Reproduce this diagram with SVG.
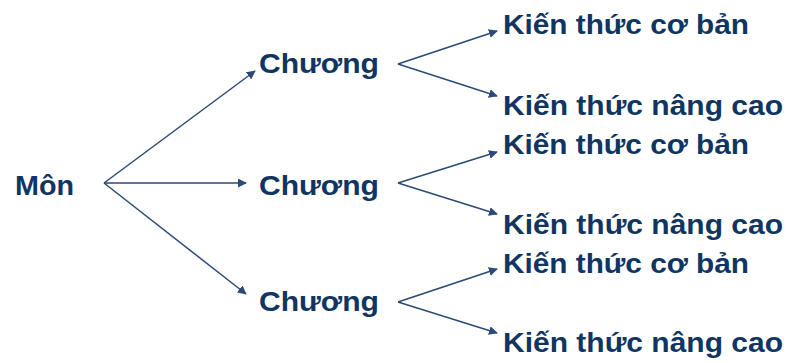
<svg xmlns="http://www.w3.org/2000/svg" width="787" height="363" viewBox="0 0 787 363">
  <style>
    .lbl { font-family: "Liberation Sans", Arial, sans-serif; font-weight: bold; font-size: 28px; fill: #0f3563; }
    .edge { stroke: #2b4a78; stroke-width: 1.5; fill: none; marker-end: url(#arrow); }
  </style>
  <defs>
    <marker id="arrow" viewBox="0 0 10 10" refX="9" refY="5" markerWidth="9" markerHeight="9" markerUnits="userSpaceOnUse" orient="auto">
      <path d="M0,0 L10,5 L0,10 z" fill="#2b4a78"/>
    </marker>
  </defs>
  <rect width="787" height="363" fill="#ffffff"/>

  <g id="connectors">
    <path class="edge" d="M104,183 L255,71"/>
    <path class="edge" d="M104,183 L246,183"/>
    <path class="edge" d="M104,183 L246,294"/>
    <path class="edge" d="M398,64 L497,31"/>
    <path class="edge" d="M398,64 L497,96"/>
    <path class="edge" d="M398,183 L497,152"/>
    <path class="edge" d="M398,183 L497,214"/>
    <path class="edge" d="M398,302 L497,269"/>
    <path class="edge" d="M398,302 L497,333"/>
  </g>

  <g id="mon"><text class="lbl" x="15" y="195" textLength="59" lengthAdjust="spacingAndGlyphs">Môn</text></g>
  <g id="chuong1"><text class="lbl" x="259" y="73" textLength="120" lengthAdjust="spacingAndGlyphs">Chương</text></g>
  <g id="chuong2"><text class="lbl" x="259" y="195" textLength="120" lengthAdjust="spacingAndGlyphs">Chương</text></g>
  <g id="chuong3"><text class="lbl" x="259" y="311" textLength="120" lengthAdjust="spacingAndGlyphs">Chương</text></g>
  <g id="coban1"><text class="lbl" x="503" y="34" textLength="246" lengthAdjust="spacingAndGlyphs">Kiến thức cơ bản</text></g>
  <g id="nangcao1"><text class="lbl" x="503" y="115" textLength="280" lengthAdjust="spacingAndGlyphs">Kiến thức nâng cao</text></g>
  <g id="coban2"><text class="lbl" x="503" y="154" textLength="246" lengthAdjust="spacingAndGlyphs">Kiến thức cơ bản</text></g>
  <g id="nangcao2"><text class="lbl" x="503" y="234" textLength="280" lengthAdjust="spacingAndGlyphs">Kiến thức nâng cao</text></g>
  <g id="coban3"><text class="lbl" x="503" y="273" textLength="246" lengthAdjust="spacingAndGlyphs">Kiến thức cơ bản</text></g>
  <g id="nangcao3"><text class="lbl" x="503" y="352" textLength="280" lengthAdjust="spacingAndGlyphs">Kiến thức nâng cao</text></g>
</svg>
